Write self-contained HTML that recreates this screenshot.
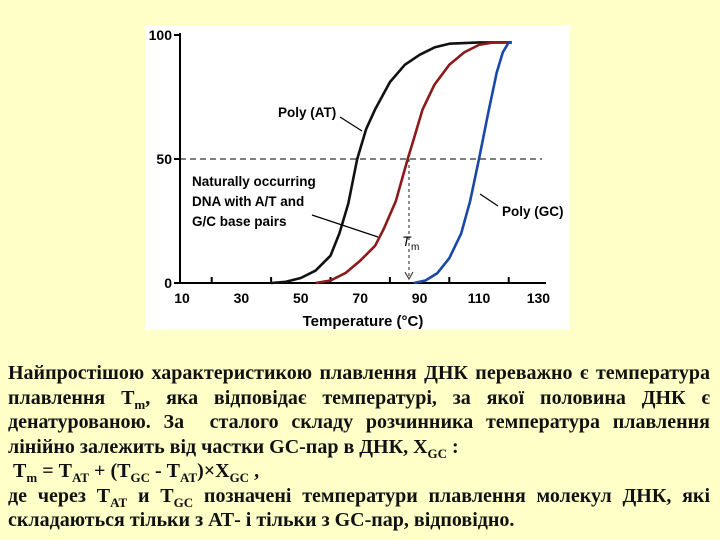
<!DOCTYPE html>
<html><head><meta charset="utf-8"><style>
body{margin:0;width:720px;height:540px;background:#FFFFC8;overflow:hidden;position:relative;font-family:"Liberation Serif",serif}
#chart{position:absolute;left:0;top:0}
.txt{position:absolute;left:8px;width:702px;top:361px;font-weight:bold;font-size:20px;line-height:24.5px;color:#111;font-family:"Liberation Serif","DejaVu Serif",serif}
.j{text-align:justify;text-align-last:justify;white-space:nowrap}
.l{text-align:left;white-space:nowrap}
sub{font-size:13px;line-height:0}
</style></head><body>
<svg id="chart" width="720" height="350">
<rect x="145" y="25" width="425" height="305" fill="#fff"/>
<g id="marks"></g>
</svg>
<div class="txt">
<div class="j">Найпростішою характеристикою плавлення ДНК переважно є температура</div>
<div class="j">плавлення Т<sub>m</sub>, яка відповідає температурі, за якої половина ДНК є</div>
<div class="j">денатурованою. За &nbsp;сталого складу розчинника температура плавлення</div>
<div class="l">лінійно залежить від частки GC-пар в ДНК, Х<sub>GC</sub> :</div>
<div class="l">&nbsp;Т<sub>m</sub> = Т<sub>AT</sub> + (Т<sub>GC</sub> - Т<sub>AT</sub>)×Х<sub>GC</sub> ,</div>
<div class="j">де через Т<sub>AT</sub> и Т<sub>GC</sub> позначені температури плавлення молекул ДНК, які</div>
<div class="l">складаються тільки з АТ- і тільки з GC-пар, відповідно.</div>
</div>
<script>
const xTicks=[10,30,50,70,90,110,130];
const yTicks=[0,50,100];
const atT=[40,45,50,55,60,63,66,69,72,75,80,85,90,95,100,110,121];
const atV=[0,0.5,2,5,11,20,32,50,62,70,81,88,92,95,96.5,97,97];
const natT=[55,60,65,70,75,78,82,86,88,91,95,100,105,110,115,121];
const natV=[0,1,4,9,15,22,33,50,58,70,80,88,93,96,97,97];
const gcT=[88,92,96,100,104,107,110,113,116,118,120,121];
const gcV=[0,1,4,10,20,33,50,68,85,93,97,97];
const X=t=>182+(t-10)*2.97, Y=v=>283-v*2.48;
const NS="http://www.w3.org/2000/svg", g=document.getElementById('marks');
function mk(tag,attrs,txt){const e=document.createElementNS(NS,tag);for(const k in attrs)e.setAttribute(k,attrs[k]);if(txt!==undefined)e.textContent=txt;g.appendChild(e);return e;}
const F='font-family:"Liberation Sans",sans-serif;font-weight:bold;';
let e;
e=mk('line',{x1:180,y1:Y(50),x2:542,y2:Y(50),stroke:'#333','stroke-width':1.2,'stroke-dasharray':'6,4'});


e=mk('line',{x1:180,y1:Y(100)-2,x2:180,y2:Y(0),stroke:'#000','stroke-width':2});


e=mk('line',{x1:180,y1:Y(0),x2:546,y2:Y(0),stroke:'#000','stroke-width':2});


for(let t=20;t<=120;t+=20){e=mk('line',{x1:X(t),y1:Y(0),x2:X(t),y2:Y(0)-6,stroke:'#000','stroke-width':2});

}
xTicks.forEach(t=>{e=mk('text',{x:X(t),y:Y(0)+20,'text-anchor':'middle','font-size':14,style:F},String(t));

});
yTicks.forEach(v=>{e=mk('text',{x:172,y:Y(v)+5,'text-anchor':'end','font-size':14,style:F},String(v));


e=mk('line',{x1:174,y1:Y(v),x2:180,y2:Y(v),stroke:'#000','stroke-width':2});

});
e=mk('text',{x:363,y:326,'text-anchor':'middle','font-size':15,style:F},'Temperature (°C)');


function curve(T,V,col,name){const d=T.map((t,i)=>(i?'L':'M')+X(t).toFixed(1)+','+Y(V[i]).toFixed(1)).join(' ');
const p=mk('path',{d:d,fill:'none',stroke:col,'stroke-width':2.6,'stroke-linejoin':'round'});

}
curve(atT,atV,'#111','poly-at-curve');
curve(natT,natV,'#8B1A1A','natural-dna-curve');
curve(gcT,gcV,'#1848A8','poly-gc-curve');
e=mk('line',{x1:409,y1:Y(50),x2:409,y2:277,stroke:'#444','stroke-width':1.2,'stroke-dasharray':'3,3'});


e=mk('path',{d:'M405,272 L409,279 L413,272',fill:'none',stroke:'#444','stroke-width':1.2});


const labs=[['Poly (AT)',278,117,'poly-at-label'],['Naturally occurring',192,186,'natural-label-1'],['DNA with A/T and',192,206,'natural-label-2'],['G/C base pairs',192,226,'natural-label-3'],['Poly (GC)',502,216,'poly-gc-label']];
labs.forEach(l=>{e=mk('text',{x:l[1],y:l[2],'font-size':13.5,style:F},l[0]);

});
e=mk('text',{x:402,y:246,'font-size':14,style:'font-family:"Liberation Sans",sans-serif;font-style:italic'},'T');


e=mk('text',{x:411,y:250,'font-size':10,style:'font-family:"Liberation Sans",sans-serif'},'m');


[[340,117,362,131],[312,215,378,237],[480,194,498,206]].forEach(p=>{e=mk('line',{x1:p[0],y1:p[1],x2:p[2],y2:p[3],stroke:'#000','stroke-width':1.2});

});
</script>
</body></html>
